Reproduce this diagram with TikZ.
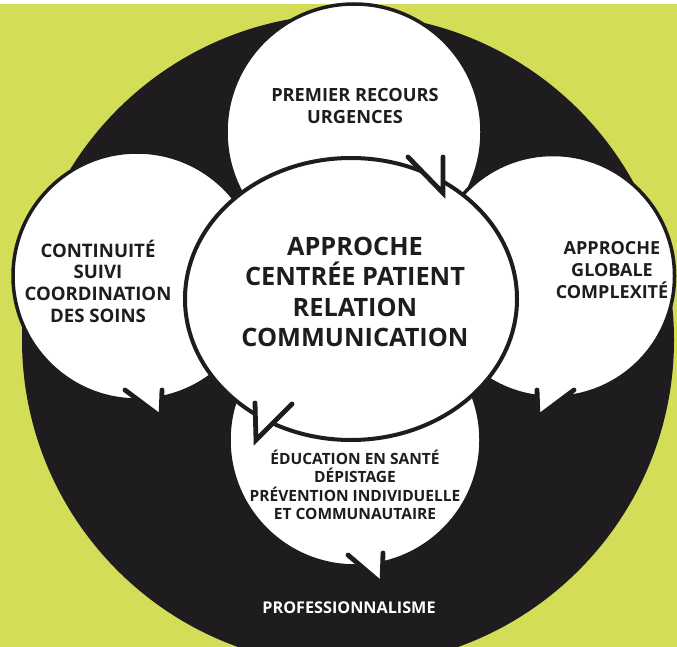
\documentclass[tikz,border=0pt]{standalone}
\usepackage{fontspec}
\setmainfont{Open Sans}
\usetikzlibrary{shapes}
\definecolor{bgyellow}{RGB}{212,221,88}
\definecolor{ink}{RGB}{30,28,30}

\begin{document}
\begin{tikzpicture}[x=1pt,y=-1pt]
\tikzstyle{bubble}=[circle, fill=white, draw=ink, line width=3.5pt, inner sep=0pt]
\tikzstyle{tail}=[draw=ink, line width=4.8pt, line cap=round, line join=miter]
\tikzstyle{bubbletext}=[font=\bfseries, align=center, text=ink, inner sep=0pt]
\useasboundingbox (0,0) rectangle (677,647);
\begin{scope}
\clip (0,0) rectangle (677,647);
\fill[bgyellow] (0,4) rectangle (677,647);
\fill[ink] (348,340) circle (326);
% the four themes
\node[bubble, minimum size=256pt] (premier) at (354,132) {};
\node[bubble, minimum size=248pt] (continuite) at (137,276) {};
\node[bubble, minimum size=243pt] (globale) at (553,276) {};
\node[bubble, minimum size=252pt] (education) at (355,440) {};
% centre
\node[ellipse, fill=white, draw=ink, line width=4pt, minimum width=332pt, minimum height=282pt, inner sep=0pt] (centre) at (351,299) {};
% tails
\fill[white] (408,157) -- (443,193) -- (443,157) -- cycle;
\draw[tail] (408,157) -- (443,193) -- (443,157);
\fill[white] (125,390) -- (161,417) -- (162,390) -- cycle;
\draw[tail] (125,390) -- (161,417) -- (162,390);
\fill[white] (574,390) -- (538,417) -- (537,390) -- cycle;
\draw[tail] (574,390) -- (538,417) -- (537,390);
\fill[white] (348,555) -- (382,584) -- (383,553) -- cycle;
\draw[tail] (348,555) -- (382,584) -- (383,553);
\fill[white] (292,404) -- (256,440) -- (255,403) -- cycle;
\draw[tail] (292,404) -- (256,440) -- (255,403);
\end{scope}
% texts
\node[bubbletext, font=\bfseries\fontsize{18.2}{21.5}\selectfont] (premiertext) at (355,106) {PREMIER RECOURS\\URGENCES};
\node[bubbletext, font=\bfseries\fontsize{25.3}{30.5}\selectfont] (centretext) at (355,292) {APPROCHE\\CENTRÉE PATIENT\\RELATION\\COMMUNICATION};
\node[bubbletext, font=\bfseries\fontsize{18.6}{21.7}\selectfont] (continuitetext) at (98,281) {CONTINUITÉ\\SUIVI\\COORDINATION\\DES SOINS};
\node[bubbletext, font=\bfseries\fontsize{18}{22}\selectfont] (globaletext) at (612,270) {APPROCHE\\GLOBALE\\COMPLEXITÉ};
\node[bubbletext, font=\bfseries\fontsize{15.5}{18.3}\selectfont] (educationtext) at (355,485) {ÉDUCATION EN SANTÉ\\DÉPISTAGE\\PRÉVENTION INDIVIDUELLE\\ET COMMUNAUTAIRE};
\node[bubbletext, text=white, font=\bfseries\fontsize{16.2}{18}\selectfont] (proftext) at (349,608) {PROFESSIONNALISME};
\end{tikzpicture}
\end{document}
